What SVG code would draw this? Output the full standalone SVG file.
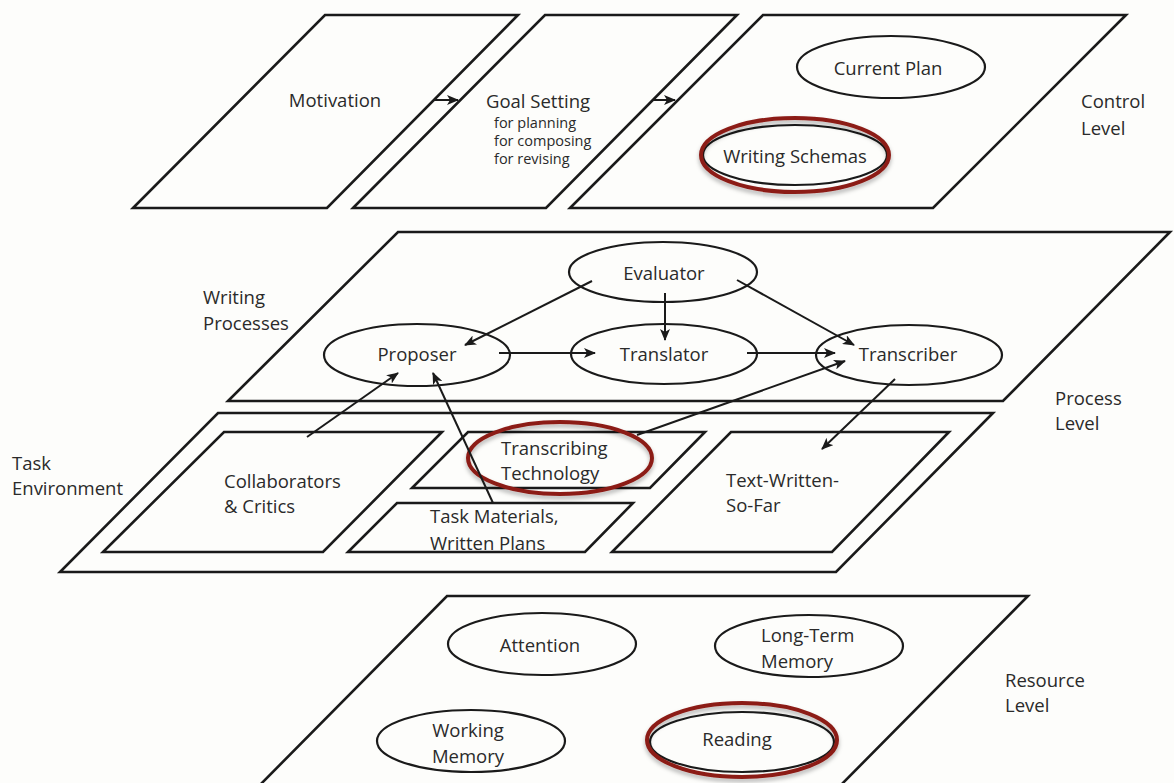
<svg xmlns="http://www.w3.org/2000/svg" width="1174" height="783" viewBox="0 0 1174 783">
  <defs>
    <marker id="head" viewBox="0 0 12 10" refX="11" refY="5" markerWidth="12" markerHeight="10" markerUnits="userSpaceOnUse" orient="auto">
      <path d="M0,0 L12,5 L0,10 L3,5 z" fill="#1a1a1a"/>
    </marker>
    <filter id="shadow" x="-20%" y="-30%" width="140%" height="170%">
      <feDropShadow dx="0" dy="3" stdDeviation="2" flood-color="#000" flood-opacity="0.3"/>
    </filter>
  </defs>
  <style>
    .plane { fill: none; stroke: #1a1a1a; stroke-width: 2.6; stroke-linejoin: miter; }
    .node { fill: none; stroke: #1a1a1a; stroke-width: 2.2; }
    .hl { fill: none; stroke: #8c1c17; stroke-width: 4; filter: url(#shadow); }
    .edge { fill: none; stroke: #1a1a1a; stroke-width: 2; marker-end: url(#head); }
    text { font-family: "Open Sans", "Noto Sans", "Liberation Sans", sans-serif; font-size: 18.5px; fill: #2a2a2a; dominant-baseline: central; }
    .mid { text-anchor: middle; }
    .small { font-size: 14.5px; }
  </style>
  <rect width="1174" height="783" fill="#fdfdfb"/>

  <!-- Control level -->
  <g id="motivation">
    <polygon class="plane" points="325,15 518,15 327,208 133,208"/>
    <text class="mid" x="335" y="99">Motivation</text>
  </g>
  <g id="goal-setting">
    <polygon class="plane" points="545,15 737,15 546,208 353,208"/>
    <text class="mid" x="538" y="100">Goal Setting</text>
    <text class="small" x="494" y="122">for planning</text>
    <text class="small" x="494" y="140">for composing</text>
    <text class="small" x="494" y="158">for revising</text>
  </g>
  <g id="control-plane">
    <polygon class="plane" points="763,15 1126,15 933,208 570,208"/>
  </g>
  <g id="current-plan">
    <ellipse class="node" cx="891" cy="67" rx="94" ry="31"/>
    <text class="mid" x="888" y="67">Current Plan</text>
  </g>
  <g id="writing-schemas">
    <ellipse class="node" cx="795" cy="155" rx="92" ry="30"/>
    <ellipse class="hl" cx="795" cy="155" rx="94" ry="37"/>
    <text class="mid" x="795" y="155">Writing Schemas</text>
  </g>
  <g id="control-level-label">
    <text x="1081" y="100">Control</text>
    <text x="1081" y="127">Level</text>
  </g>

  <!-- Process level: writing processes -->
  <g id="writing-processes">
    <polygon class="plane" points="398,232 1170,232 1003,401 228,401"/>
    <text x="203" y="296">Writing</text>
    <text x="203" y="322">Processes</text>
  </g>
  <g id="evaluator">
    <ellipse class="node" cx="663" cy="272" rx="94" ry="30"/>
    <text class="mid" x="664" y="272">Evaluator</text>
  </g>
  <g id="proposer">
    <ellipse class="node" cx="417" cy="355" rx="93" ry="31"/>
    <text class="mid" x="417" y="353">Proposer</text>
  </g>
  <g id="translator">
    <ellipse class="node" cx="664" cy="354" rx="93" ry="30"/>
    <text class="mid" x="664" y="353">Translator</text>
  </g>
  <g id="transcriber">
    <ellipse class="node" cx="909" cy="355" rx="93" ry="30"/>
    <text class="mid" x="908" y="353">Transcriber</text>
  </g>
  <g id="process-level-label">
    <text x="1055" y="397">Process</text>
    <text x="1055" y="422">Level</text>
  </g>

  <!-- Process level: task environment -->
  <g id="task-environment">
    <polygon class="plane" points="218,413 993,413 836,572 60,572"/>
    <text x="12" y="462">Task</text>
    <text x="12" y="487">Environment</text>
  </g>
  <g id="collaborators">
    <polygon class="plane" points="224,432 442,432 323,552 103,552"/>
    <text x="224" y="480">Collaborators</text>
    <text x="224" y="505">&amp; Critics</text>
  </g>
  <g id="transcribing-technology">
    <polygon class="plane" points="468,432 705,432 650,488 412,488"/>
    <ellipse class="hl" cx="560" cy="458" rx="92" ry="36"/>
    <text x="501" y="447">Transcribing</text>
    <text x="501" y="472">Technology</text>
  </g>
  <g id="task-materials">
    <polygon class="plane" points="397,503 633,503 585,552 348,552"/>
    <text x="430" y="515">Task Materials,</text>
    <text x="430" y="542">Written Plans</text>
  </g>
  <g id="text-written">
    <polygon class="plane" points="731,432 949,432 832,552 612,552"/>
    <text x="726" y="479">Text-Written-</text>
    <text x="726" y="504">So-Far</text>
  </g>

  <!-- Resource level -->
  <g id="resource-plane">
    <polygon class="plane" points="447,596 1028,596 834,792 253,792"/>
  </g>
  <g id="attention">
    <ellipse class="node" cx="542" cy="644" rx="94" ry="31"/>
    <text class="mid" x="540" y="644">Attention</text>
  </g>
  <g id="long-term-memory">
    <ellipse class="node" cx="809" cy="646" rx="94" ry="31"/>
    <text x="761" y="634">Long-Term</text>
    <text x="761" y="660">Memory</text>
  </g>
  <g id="working-memory">
    <ellipse class="node" cx="471" cy="741" rx="94" ry="31"/>
    <text class="mid" x="468" y="729">Working</text>
    <text class="mid" x="468" y="755">Memory</text>
  </g>
  <g id="reading">
    <ellipse class="node" cx="742" cy="742" rx="92" ry="30"/>
    <ellipse class="hl" cx="742" cy="740" rx="95" ry="37"/>
    <text class="mid" x="737" y="738">Reading</text>
  </g>
  <g id="resource-level-label">
    <text x="1005" y="679">Resource</text>
    <text x="1005" y="704">Level</text>
  </g>

  <!-- Connectors -->
  <g id="connectors">
    <line class="edge" x1="433" y1="100" x2="458" y2="100"/>
    <line class="edge" x1="653" y1="100" x2="675" y2="100"/>
    <line class="edge" x1="592" y1="281" x2="465" y2="345"/>
    <line class="edge" x1="665" y1="293" x2="665" y2="340"/>
    <line class="edge" x1="737" y1="280" x2="854" y2="345"/>
    <line class="edge" x1="499" y1="353" x2="595" y2="353"/>
    <line class="edge" x1="747" y1="353" x2="835" y2="353"/>
    <line class="edge" x1="307" y1="437" x2="398" y2="373"/>
    <line class="edge" x1="493" y1="503" x2="433" y2="373"/>
    <line class="edge" x1="637" y1="435" x2="845" y2="361"/>
    <line class="edge" x1="895" y1="379" x2="822" y2="449"/>
  </g>
</svg>
